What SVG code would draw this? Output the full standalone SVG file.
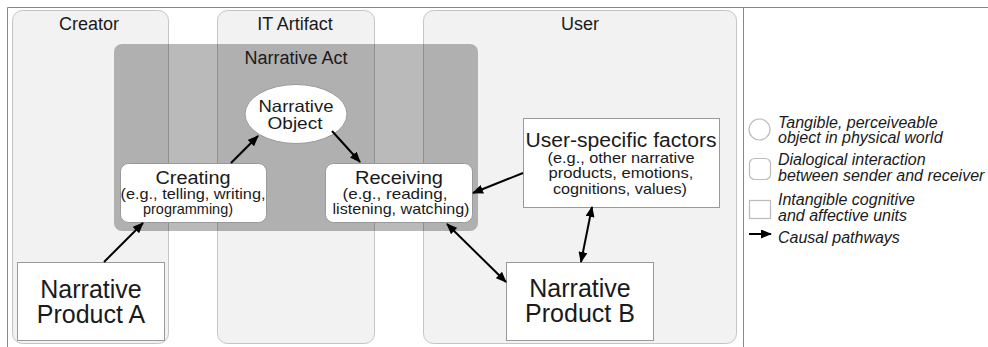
<svg xmlns="http://www.w3.org/2000/svg" width="988" height="347" viewBox="0 0 988 347">
<style>
text{font-family:"Liberation Sans",Arial,sans-serif;fill:#1a1a1a;text-anchor:middle}
.col{fill:#f2f2f2;stroke:#c4c4c4;stroke-width:1}
.ttl{font-size:18px}
.node{fill:#fff;stroke:#999;stroke-width:1}
.big{font-size:25px}
.sub{font-size:14.5px}
.leg{font-size:16px;font-style:italic;text-anchor:start}
.lg{fill:#fff;stroke:#bbb;stroke-width:1.2}
.c{stroke:#000;stroke-width:2;fill:none}
</style>
<defs>
<marker id="ah" markerUnits="userSpaceOnUse" markerWidth="11" markerHeight="9" refX="10" refY="4.5" orient="auto-start-reverse" viewBox="0 0 11 9">
<path d="M0,0 L11,4.5 L0,9 z" fill="#000"/>
</marker>
</defs>
<rect width="988" height="347" fill="#fff"/>
<g id="frame" fill="none" stroke="#888" stroke-width="1">
<path d="M7.5,347 V7.5 H988"/>
<path d="M743.5,7.5 V347"/>
</g>
<g id="creator"><rect class="col" x="12.5" y="10.5" width="156" height="333" rx="10"/><text class="ttl" x="89" y="30">Creator</text></g>
<g id="it-artifact"><rect class="col" x="217.5" y="10.5" width="157" height="333" rx="10"/><text class="ttl" x="295" y="30">IT Artifact</text></g>
<g id="user"><rect class="col" x="423.5" y="10.5" width="313" height="333" rx="10"/><text class="ttl" x="580" y="30">User</text></g>
<g id="narrative-act"><rect x="114" y="44" width="364" height="187" rx="8" fill="#000" fill-opacity="0.27"/><text class="ttl" x="296" y="64">Narrative Act</text></g>
<g id="narrative-object"><ellipse class="node" cx="296" cy="114" rx="51" ry="29.5"/><text x="296" y="112" style="font-size:16.5px" textLength="75" lengthAdjust="spacingAndGlyphs">Narrative</text><text x="295" y="129" style="font-size:16.5px" textLength="55" lengthAdjust="spacingAndGlyphs">Object</text></g>
<g id="creating"><rect class="node" x="120.5" y="163.5" width="146" height="59" rx="8"/><text x="193" y="184" style="font-size:18px" textLength="75" lengthAdjust="spacingAndGlyphs">Creating</text><text class="sub" x="193" y="199" textLength="145" lengthAdjust="spacingAndGlyphs">(e.g., telling, writing,</text><text class="sub" x="188" y="214" textLength="90" lengthAdjust="spacingAndGlyphs">programming)</text></g>
<g id="receiving"><rect class="node" x="325.5" y="163.5" width="147" height="59" rx="8"/><text x="399" y="184" style="font-size:18px" textLength="88" lengthAdjust="spacingAndGlyphs">Receiving</text><text class="sub" x="395" y="199" textLength="105" lengthAdjust="spacingAndGlyphs">(e.g., reading,</text><text class="sub" x="401" y="214" textLength="137" lengthAdjust="spacingAndGlyphs">listening, watching)</text></g>
<g id="user-specific-factors"><rect class="node" x="523.5" y="118.5" width="196" height="89"/><text x="621" y="147" style="font-size:19.5px" textLength="191" lengthAdjust="spacingAndGlyphs">User-specific factors</text><text class="sub" x="621" y="162.5" textLength="147" lengthAdjust="spacingAndGlyphs">(e.g., other narrative</text><text class="sub" x="621" y="178" textLength="145" lengthAdjust="spacingAndGlyphs">products, emotions,</text><text class="sub" x="620" y="193.5" textLength="134" lengthAdjust="spacingAndGlyphs">cognitions, values)</text></g>
<g id="product-a"><rect class="node" x="17.5" y="262.5" width="147" height="78"/><text class="big" x="91" y="298">Narrative</text><text class="big" x="91" y="323">Product A</text></g>
<g id="product-b"><rect class="node" x="506.5" y="262.5" width="147" height="78"/><text class="big" x="580" y="297">Narrative</text><text class="big" x="580" y="322">Product B</text></g>
<g id="connectors">
<line class="c" x1="104" y1="262" x2="143" y2="223" marker-end="url(#ah)"/>
<line class="c" x1="231" y1="163" x2="258" y2="136" marker-end="url(#ah)"/>
<line class="c" x1="332" y1="131" x2="360" y2="162" marker-end="url(#ah)"/>
<line class="c" x1="523" y1="173" x2="473" y2="193" marker-end="url(#ah)"/>
<line class="c" x1="447" y1="224" x2="506" y2="282" marker-start="url(#ah)" marker-end="url(#ah)"/>
<line class="c" x1="592" y1="207" x2="581" y2="262" marker-start="url(#ah)" marker-end="url(#ah)"/>
</g>
<g id="legend">
<circle class="lg" cx="759.5" cy="129.5" r="10.5"/>
<text class="leg" x="778" y="128">Tangible, perceiveable</text>
<text class="leg" x="778" y="143">object in physical world</text>
<rect class="lg" x="749.5" y="158.5" width="21" height="21" rx="5"/>
<text class="leg" x="778" y="165">Dialogical interaction</text>
<text class="leg" x="778" y="181">between sender and receiver</text>
<rect class="lg" x="749.5" y="200.5" width="21" height="18"/>
<text class="leg" x="778" y="205">Intangible cognitive</text>
<text class="leg" x="778" y="221">and affective units</text>
<line class="c" x1="749" y1="234" x2="771" y2="234" marker-end="url(#ah)"/>
<text class="leg" x="778" y="243">Causal pathways</text>
</g>
</svg>
